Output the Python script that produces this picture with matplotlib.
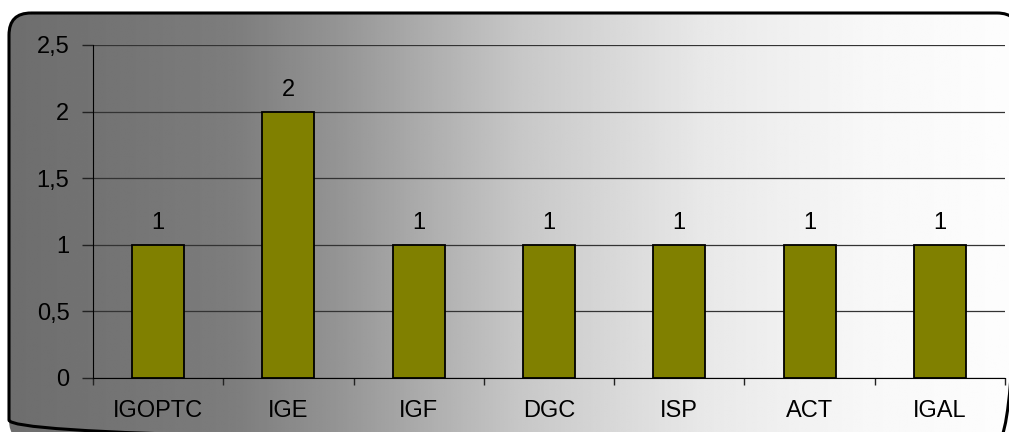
import numpy as np
import matplotlib.pyplot as plt
from matplotlib.patches import FancyBboxPatch

plt.rcParams['font.family'] = ['Liberation Sans', 'DejaVu Sans']

# datos del grafico
categorias = ['IGOPTC', 'IGE', 'IGF', 'DGC', 'ISP', 'ACT', 'IGAL']
valores = [1, 2, 1, 1, 1, 1, 1]
yticks = [0, 0.5, 1, 1.5, 2, 2.5]
ytick_labels = ['0', '0,5', '1', '1,5', '2', '2,5']

W, H = 1009, 432
fig = plt.figure(figsize=(W / 100, H / 100), dpi=100)

# fondo con degradado gris -> blanco dentro de un recuadro redondeado
bg = fig.add_axes([0, 0, 1, 1])
bg.set_xlim(0, W)
bg.set_ylim(H, 0)
bg.axis('off')
xs = np.linspace(0, 1, 500)
gris = np.interp(xs, [0, 0.12, 0.22, 0.32, 0.50, 0.68, 0.84, 1.0],
                 [0.43, 0.46, 0.49, 0.58, 0.78, 0.91, 0.97, 0.995])
grad = np.tile(gris, (2, 1))
img = bg.imshow(grad, cmap='gray', vmin=0, vmax=1, aspect='auto',
                extent=[9, W + 20, H + 20, 13], interpolation='bilinear')
caja = FancyBboxPatch((9, 13), W + 10 - 9, H + 10 - 13,
                      boxstyle='round,pad=0,rounding_size=22',
                      facecolor='none', edgecolor='black', linewidth=2.2)
bg.add_patch(caja)
img.set_clip_path(caja)

# area del grafico
ax = fig.add_axes([93 / W, 1 - 378 / H, (1005 - 93) / W, (378 - 45) / H])
ax.patch.set_alpha(0)
x = np.arange(len(categorias))
ax.bar(x, valores, width=0.4, color='#808000', edgecolor='black',
       linewidth=1.3, zorder=3)
for xi, v in zip(x, valores):
    ax.text(xi, v + 0.08, str(v), ha='center', va='bottom', fontsize=17)

ax.set_xlim(-0.5, len(categorias) - 0.5)
ax.set_ylim(0, 2.5)
ax.set_yticks(yticks)
ax.set_yticklabels(ytick_labels, fontsize=17)
ax.yaxis.grid(True, color='#333333', linewidth=0.9, zorder=0)
ax.set_xticks(x)
ax.set_xticklabels(categorias, fontsize=17)
ax.set_xticks(np.arange(len(categorias) + 1) - 0.5, minor=True)
ax.tick_params(axis='x', which='major', length=0, pad=16)
ax.tick_params(axis='x', which='minor', length=5, width=1, color='#222222')
ax.tick_params(axis='y', length=8, width=1, color='#222222', pad=9)
for lado in ['top', 'right']:
    ax.spines[lado].set_visible(False)
ax.spines['left'].set_color('black')
ax.spines['bottom'].set_color('black')

plt.savefig('out.png', dpi=100)
plt.close()
